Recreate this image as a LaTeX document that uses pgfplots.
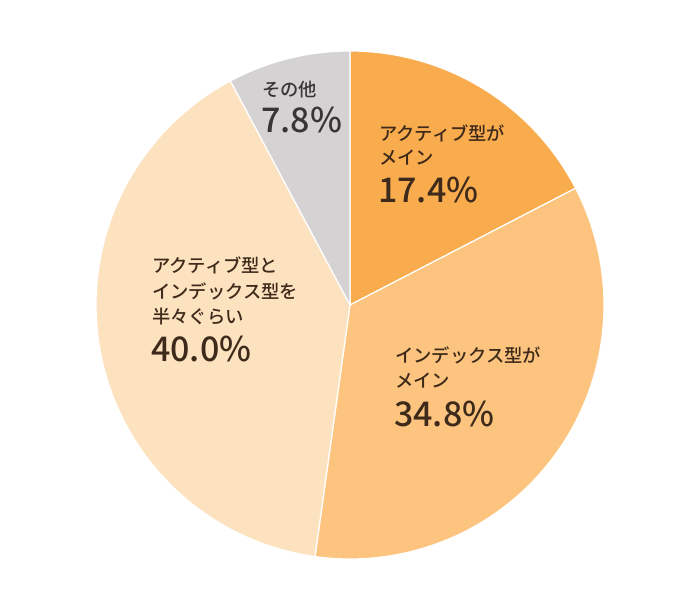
\documentclass[border=0pt]{standalone}
\usepackage{pgfplots}
\pgfplotsset{compat=1.18}
\usepackage{fontspec}
\setmainfont{Noto Sans CJK JP}
\newfontfamily\medfont{Noto Sans CJK JP Medium}
\definecolor{cA}{HTML}{F9AC4E}
\definecolor{cB}{HTML}{FCC47E}
\definecolor{cC}{HTML}{FDE2BF}
\definecolor{cD}{HTML}{D5D2D3}
\definecolor{tBrown}{HTML}{3E2A1A}
\definecolor{tGray}{HTML}{383535}
% percentages of the four slices
\def\pA{17.4}\def\pB{34.8}\def\pC{40.0}\def\pD{7.8}
\pgfmathsetmacro{\aZero}{90}
\pgfmathsetmacro{\aOne}{90-3.6*\pA}
\pgfmathsetmacro{\aTwo}{\aOne-3.6*\pB}
\pgfmathsetmacro{\aThree}{\aTwo-3.6*\pC}
\pgfmathsetmacro{\aFour}{\aThree-3.6*\pD}
\def\cx{350}\def\cy{295}\def\rr{254}
\tikzset{
  small/.style={font=\medfont\fontsize{18.3bp}{22bp}\selectfont, anchor=base west, inner sep=0pt},
  big/.style={font=\medfont\fontsize{34bp}{40bp}\selectfont, anchor=base west, inner sep=0pt},
}
\begin{document}
\begin{tikzpicture}
\begin{axis}[
  scale only axis, width=700bp, height=600bp,
  xmin=0, xmax=700, ymin=0, ymax=600,
  hide axis, clip=false,
  every axis plot/.append style={draw=white, line width=1.2bp, samples=90, line join=round},
]
\path (axis cs:0,0) rectangle (axis cs:700,600);
\addplot[fill=cA, domain=\aZero:\aOne] ({\cx+\rr*cos(x)},{\cy+\rr*sin(x)}) -- (axis cs:\cx,\cy) -- cycle;
\addplot[fill=cB, domain=\aOne:\aTwo] ({\cx+\rr*cos(x)},{\cy+\rr*sin(x)}) -- (axis cs:\cx,\cy) -- cycle;
\addplot[fill=cC, domain=\aTwo:\aThree] ({\cx+\rr*cos(x)},{\cy+\rr*sin(x)}) -- (axis cs:\cx,\cy) -- cycle;
\addplot[fill=cD, domain=\aThree:\aFour] ({\cx+\rr*cos(x)},{\cy+\rr*sin(x)}) -- (axis cs:\cx,\cy) -- cycle;
% slice 1
\node[small, text=tBrown] at (axis cs:379,{600-141}) {アクティブ型が};
\node[small, text=tBrown] at (axis cs:379,{600-165}) {メイン};
\node[big, text=tBrown] at (axis cs:378,{600-203}) {17.4\%};
% slice 2
\node[small, text=tBrown] at (axis cs:395,{600-363}) {インデックス型が};
\node[small, text=tBrown] at (axis cs:395,{600-388}) {メイン};
\node[big, text=tBrown] at (axis cs:394,{600-427}) {34.8\%};
% slice 3
\node[small, text=tBrown] at (axis cs:152,{600-273}) {アクティブ型と};
\node[small, text=tBrown] at (axis cs:152,{600-299}) {インデックス型を};
\node[small, text=tBrown] at (axis cs:152,{600-324}) {半々ぐらい};
\node[big, text=tBrown] at (axis cs:151,{600-362}) {40.0\%};
% slice 4
\node[small, text=tGray] at (axis cs:262,{600-97}) {その他};
\node[big, text=tGray] at (axis cs:261,{600-133}) {7.8\%};
\end{axis}
\end{tikzpicture}
\end{document}
